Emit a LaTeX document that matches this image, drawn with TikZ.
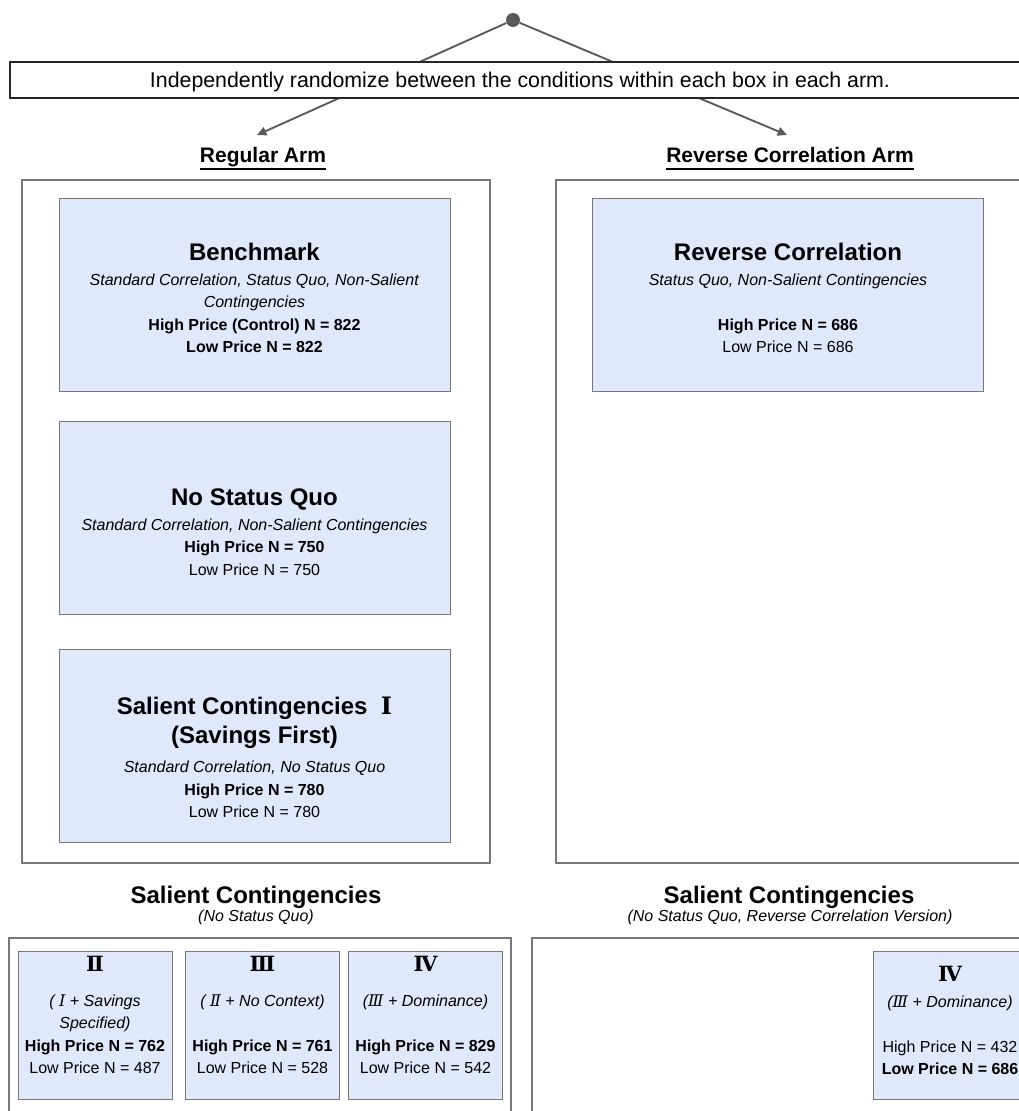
\documentclass[tikz,border=0pt]{standalone}
\usepackage{fontspec}
\setmainfont{Liberation Sans}
\newfontfamily\romfont{DejaVu Serif}
\usetikzlibrary{arrows.meta, positioning}
\definecolor{condblue}{RGB}{223, 233, 251}
\definecolor{linegray}{RGB}{89, 89, 89}
\definecolor{boxgray}{RGB}{120, 120, 120}
\newcommand{\armfont}{\fontsize{15.75}{18}\selectfont\bfseries}
\newcommand{\condtitle}{\fontsize{18}{21}\selectfont\bfseries}
\newcommand{\condfont}{\fontsize{12}{16.75}\selectfont}
\newsavebox{\headbox}
\newcommand{\armunder}[1]{\sbox{\headbox}{#1}\rlap{\rule[-6pt]{\wd\headbox}{1.5pt}}\usebox{\headbox}}

\begin{document}
\begin{tikzpicture}[x=0.75pt, y=-0.75pt,
  randbox/.style={draw=black!85, line width=0.9pt, fill=white, minimum width=765pt, minimum height=27pt, text depth=0pt, font=\fontsize{16}{19}\selectfont},
  armbox/.style={draw=boxgray, line width=0.9pt, minimum width=351pt, minimum height=512.25pt, inner sep=0pt},
  condbox/.style={draw=boxgray, fill=condblue, line width=0.75pt, minimum width=293.25pt, minimum height=144.75pt, inner sep=0pt},
  minibox/.style={condbox, minimum width=115.5pt, minimum height=111pt},
  boxtext/.style={anchor=north, inner sep=0pt, align=center, font=\condfont},
  heading/.style={anchor=base, inner sep=0pt, font=\armfont},
  subhead/.style={anchor=base, inner sep=0pt, font=\condfont\itshape},
  flow/.style={draw=linegray, line width=1.4pt, -{Triangle[length=7pt, width=6.5pt]}},
  splitdot/.style={circle, fill=linegray, minimum size=10.5pt, inner sep=0pt}
]
  \useasboundingbox (0,0) rectangle (1019,1111);

  % Randomization
  \node[splitdot] (split) at (513, 20) {};
  \coordinate (regtip) at (257, 135);
  \coordinate (revtip) at (787, 135);
  \draw[flow] (split) -- (regtip);
  \draw[flow] (split) -- (revtip);
  \node[randbox] (rand) at (520, 80) {Independently randomize between the conditions within each box in each arm.};

  % Regular arm
  \node[heading] (reghead) at (263, 162) {\armunder{Regular Arm}};
  \node[armbox] (regarm) at (256, 521.5) {};
  \node[condbox] (bench) at (254.5, 294.5) {};
  \node[boxtext] (benchtxt) at (254.5, 243) {{\condtitle Benchmark}\\[2pt]
    \textit{Standard Correlation, Status Quo, Non-Salient}\\
    \textit{Contingencies}\\
    \textbf{High Price (Control) N = 822}\\
    \textbf{Low Price N = 822}};
  \node[condbox] (nosq) at (254.5, 518) {};
  \node[boxtext] (nosqtxt) at (254.5, 488.5) {{\condtitle No Status Quo}\\[2pt]
    \textit{Standard Correlation, Non-Salient Contingencies}\\
    \textbf{High Price N = 750}\\
    Low Price N = 750};
  \node[condbox] (salI) at (254.5, 746) {};
  \node[boxtext] (salItxt) at (254.5, 696.5) {{\condtitle Salient Contingencies\ \ {\romfont Ⅰ}}\\[4.25pt]
    {\condtitle (Savings First)}\\[5pt]
    \textit{Standard Correlation, No Status Quo}\\
    \textbf{High Price N = 780}\\
    Low Price N = 780};

  % Reverse correlation arm
  \node[heading] (revhead) at (790, 162) {\armunder{Reverse Correlation Arm}};
  \node[armbox] (revarm) at (790, 521.5) {};
  \node[condbox] (revcorr) at (788, 294.5) {};
  \node[boxtext] (revcorrtxt) at (788, 243) {{\condtitle Reverse Correlation}\\[2pt]
    \textit{Status Quo, Non-Salient Contingencies}\\
    \\
    \textbf{High Price N = 686}\\
    Low Price N = 686};

  % Salient contingencies, regular
  \node[heading, font=\condtitle] (schead) at (256, 903) {Salient Contingencies};
  \node[subhead] (scsub) at (256, 921) {(No Status Quo)};
  \node[armbox, minimum width=376.5pt, minimum height=140.25pt] (scarm) at (260, 1031.5) {};
  \node[minibox] (scII) at (95, 1025) {};
  \node[boxtext] (scIItxt) at (95, 956) {{\armfont\romfont Ⅱ}\\[9.5pt]
    \textit{( {\romfont Ⅰ} + Savings}\\
    \textit{Specified)}\\
    \textbf{High Price N = 762}\\
    Low Price N = 487};
  \node[minibox] (scIII) at (262.5, 1025) {};
  \node[boxtext] (scIIItxt) at (262.5, 956) {{\armfont\romfont Ⅲ}\\[9.5pt]
    \textit{( {\romfont Ⅱ} + No Context)}\\
    \\
    \textbf{High Price N = 761}\\
    Low Price N = 528};
  \node[minibox] (scIV) at (425.5, 1025) {};
  \node[boxtext] (scIVtxt) at (425.5, 956) {{\armfont\romfont Ⅳ}\\[9.5pt]
    \textit{({\romfont Ⅲ} + Dominance)}\\
    \\
    \textbf{High Price N = 829}\\
    Low Price N = 542};

  % Salient contingencies, reverse correlation
  \node[heading, font=\condtitle] (rschead) at (789, 903) {Salient Contingencies};
  \node[subhead] (rscsub) at (790, 921) {(No Status Quo, Reverse Correlation Version)};
  \node[armbox, minimum width=381pt, minimum height=140.25pt] (rscarm) at (786, 1031.5) {};
  \node[minibox] (rscIV) at (950, 1025) {};
  \node[boxtext] (rscIVtxt) at (950, 966) {{\armfont\romfont Ⅳ}\\[2.75pt]
    \textit{({\romfont Ⅲ} + Dominance)}\\
    \\
    High Price N = 432\\
    \textbf{Low Price N = 686}};
\end{tikzpicture}
\end{document}
